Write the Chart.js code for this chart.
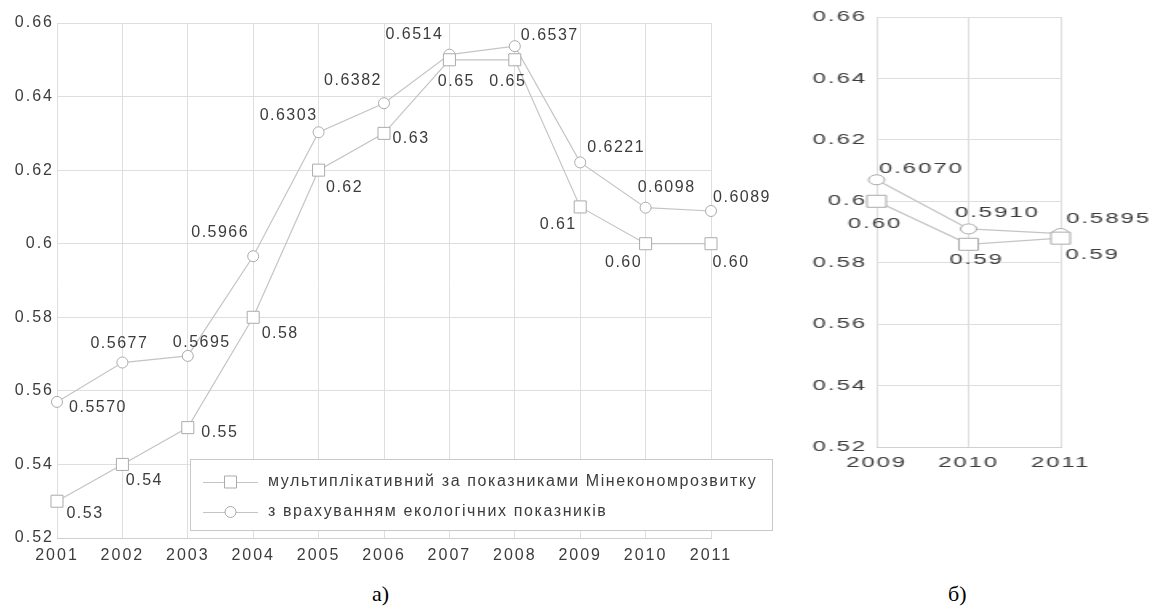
<!DOCTYPE html>
<html lang="uk">
<head>
<meta charset="utf-8">
<title>Інтегральний показник, 2001–2011</title>
<script src="https://cdn.jsdelivr.net/npm/chart.js@4.4.1/dist/chart.umd.min.js"></script>
<style>
  html, body { margin: 0; padding: 0; background: #fff; }
  body { width: 1163px; height: 609px; position: relative; overflow: hidden; }
  canvas { position: absolute; top: 0; }
  #chartA { left: 0; }
  /* panel б) is drawn horizontally stretched */
  #chartB { left: 787px; transform: scaleX(1.6); transform-origin: 0 0; }
  .cap { position: absolute; font-family: "Liberation Serif", "Times New Roman", serif; font-size: 22px; color: #000; line-height: 22px; }
</style>
</head>
<body>
<canvas id="chartA" width="800" height="568"></canvas>
<canvas id="chartB" width="235" height="490"></canvas>
<div class="cap" style="left:372px; top:583px;">а)</div>
<div class="cap" style="left:948px; top:583px;">б)</div>

<script>
// Period а): 2001–2011
const yearsA = ['2001', '2002', '2003', '2004', '2005', '2006', '2007', '2008', '2009', '2010', '2011'];
const multA  = [0.53, 0.54, 0.55, 0.58, 0.62, 0.63, 0.65, 0.65, 0.61, 0.60, 0.60];
const ecoA   = [0.5570, 0.5677, 0.5695, 0.5966, 0.6303, 0.6382, 0.6514, 0.6537, 0.6221, 0.6098, 0.6089];

// Period б): 2009–2011
const yearsB = ['2009', '2010', '2011'];
const multB  = [0.60, 0.586, 0.588];
const ecoB   = [0.6070, 0.5910, 0.5895];

const seriesNames = [
  'мультиплікативний за показниками Мінекономрозвитку',
  'з врахуванням екологічних показників'
];

const LINE = '#c4c4c4';
const MARK = '#ababab';
const GRID = '#dedede';
const TEXT = '#3c3c3c';
const SANS = '"Liberation Sans", Arial, sans-serif';

// Numeric labels next to every point
const valueLabels = {
  id: 'valueLabels',
  afterDatasetsDraw(chart, args, opts) {
    const ctx = chart.ctx;
    ctx.save();
    ctx.letterSpacing = (opts.spacing || 0) + 'px';
    ctx.font = opts.font;
    ctx.fillStyle = opts.color;
    ctx.textAlign = 'center';
    ctx.textBaseline = 'middle';
    chart.data.datasets.forEach((ds, di) => {
      const meta = chart.getDatasetMeta(di);
      const offs = opts.offsets[di];
      meta.data.forEach((pt, i) => {
        const txt = ds.data[i].toFixed(opts.decimals[di]);
        ctx.fillText(txt, pt.x + offs[i][0], pt.y + offs[i][1]);
      });
    });
    ctx.restore();
  }
};

// Framed legend drawn inside the plot area
const boxLegend = {
  id: 'boxLegend',
  afterDatasetsDraw(chart, args, opts) {
    if (!opts.show) return;
    const ctx = chart.ctx;
    const b = opts.box;
    ctx.save();
    ctx.fillStyle = '#fff';
    ctx.fillRect(b.x, b.y, b.w, b.h);
    ctx.strokeStyle = '#c9c9c9';
    ctx.lineWidth = 1;
    ctx.strokeRect(b.x + 0.5, b.y + 0.5, b.w, b.h);
    ctx.letterSpacing = (opts.spacing || 0) + 'px';
    ctx.font = opts.font;
    ctx.textAlign = 'left';
    ctx.textBaseline = 'middle';
    chart.data.datasets.forEach((ds, di) => {
      const y = b.y + opts.rowY[di];
      const x0 = b.x + 13, x1 = b.x + 68, xm = (x0 + x1) / 2;
      ctx.strokeStyle = ds.borderColor;
      ctx.lineWidth = 1;
      ctx.beginPath();
      ctx.moveTo(x0, y + 0.5);
      ctx.lineTo(x1, y + 0.5);
      ctx.stroke();
      ctx.fillStyle = '#fff';
      ctx.strokeStyle = ds.pointBorderColor;
      ctx.beginPath();
      if (ds.pointStyle === 'rect') {
        const s = ds.pointRadius * Math.SQRT1_2;
        ctx.rect(xm - s, y - s, 2 * s, 2 * s);
      } else {
        ctx.arc(xm, y, ds.pointRadius, 0, Math.PI * 2);
      }
      ctx.fill();
      ctx.stroke();
      ctx.fillStyle = opts.color;
      ctx.fillText(ds.label, b.x + 78, y);
    });
    ctx.restore();
  }
};

// Glyph spacing for the axis text
const textSpacing = {
  id: 'textSpacing',
  beforeDraw(chart, args, opts) {
    chart.ctx.letterSpacing = (opts.px || 0) + 'px';
  }
};

function makeDatasets(mult, eco, sq, ci) {
  const common = {
    borderColor: LINE,
    borderWidth: 1.2,
    pointBackgroundColor: '#fff',
    pointBorderColor: MARK,
    pointBorderWidth: 1,
    tension: 0,
    fill: false
  };
  return [
    Object.assign({ label: seriesNames[0], data: mult, pointStyle: 'rect', pointRadius: sq }, common),
    Object.assign({ label: seriesNames[1], data: eco, pointStyle: 'circle', pointRadius: ci }, common)
  ];
}

function makeScales(font, yWidth, xHeight, pad) {
  return {
    x: {
      type: 'category',
      offset: false,
      grid: { color: GRID, drawTicks: false },
      border: { display: true, color: '#d0d0d0' },
      ticks: { color: TEXT, font: font, padding: pad.x, maxRotation: 0, autoSkip: false },
      afterFit(s) { s.height = xHeight; }
    },
    y: {
      min: 0.52,
      max: 0.66,
      grid: { color: GRID, drawTicks: false },
      border: { display: false },
      ticks: {
        stepSize: 0.02,
        color: TEXT,
        font: font,
        padding: pad.y,
        callback: v => String(+v.toFixed(2))
      },
      afterFit(s) { s.width = yWidth; }
    }
  };
}

Chart.defaults.font.family = SANS;
Chart.defaults.animation = false;

new Chart(document.getElementById('chartA'), {
  type: 'line',
  data: { labels: yearsA, datasets: makeDatasets(multA, ecoA, 8.5, 5.5) },
  options: {
    responsive: false,
    layout: { padding: { left: 0, top: 23, right: 89, bottom: 0 } },
    scales: makeScales({ family: SANS, size: 16 }, 57, 30, { x: 8, y: 3 }),
    plugins: {
      legend: { display: false },
      tooltip: { enabled: false },
      textSpacing: { px: 2 },
      valueLabels: {
        font: '16px ' + SANS,
        spacing: 1.5,
        color: TEXT,
        decimals: [2, 4],
        offsets: [
          [[28, 12], [22, 16], [32, 5], [27, 16], [26, 17], [27, 5], [7, 22], [-7, 22], [-22, 18], [-22, 19], [20, 19]],
          [[41, 6], [-3, -19], [14, -13], [-33, -24], [-30, -17], [-31, -23], [-35, -20], [35, -11], [36, -15], [21, -20], [31, -13]]
        ]
      },
      boxLegend: {
        show: true,
        box: { x: 190, y: 459, w: 582, h: 71 },
        rowY: [23, 53],
        font: '16px ' + SANS,
        spacing: 1.6,
        color: TEXT
      }
    }
  },
  plugins: [textSpacing, valueLabels, boxLegend]
});

new Chart(document.getElementById('chartB'), {
  type: 'line',
  data: { labels: yearsB, datasets: makeDatasets(multB, ecoB, 8.5, 5) },
  options: {
    responsive: false,
    layout: { padding: { left: 0, top: 17, right: 64, bottom: 0 } },
    scales: makeScales({ family: SANS, size: 15 }, 56, 43, { x: 7, y: 6 }),
    plugins: {
      legend: { display: false },
      tooltip: { enabled: false },
      textSpacing: { px: 1.2 },
      valueLabels: {
        font: '15px ' + SANS,
        spacing: 1.2,
        color: TEXT,
        decimals: [2, 4],
        offsets: [
          [[-1, 23], [5, 16], [20, 17]],
          [[28, -11], [18, -16], [30, -15]]
        ]
      },
      boxLegend: { show: false }
    }
  },
  plugins: [textSpacing, valueLabels, boxLegend]
});
</script>
</body>
</html>
